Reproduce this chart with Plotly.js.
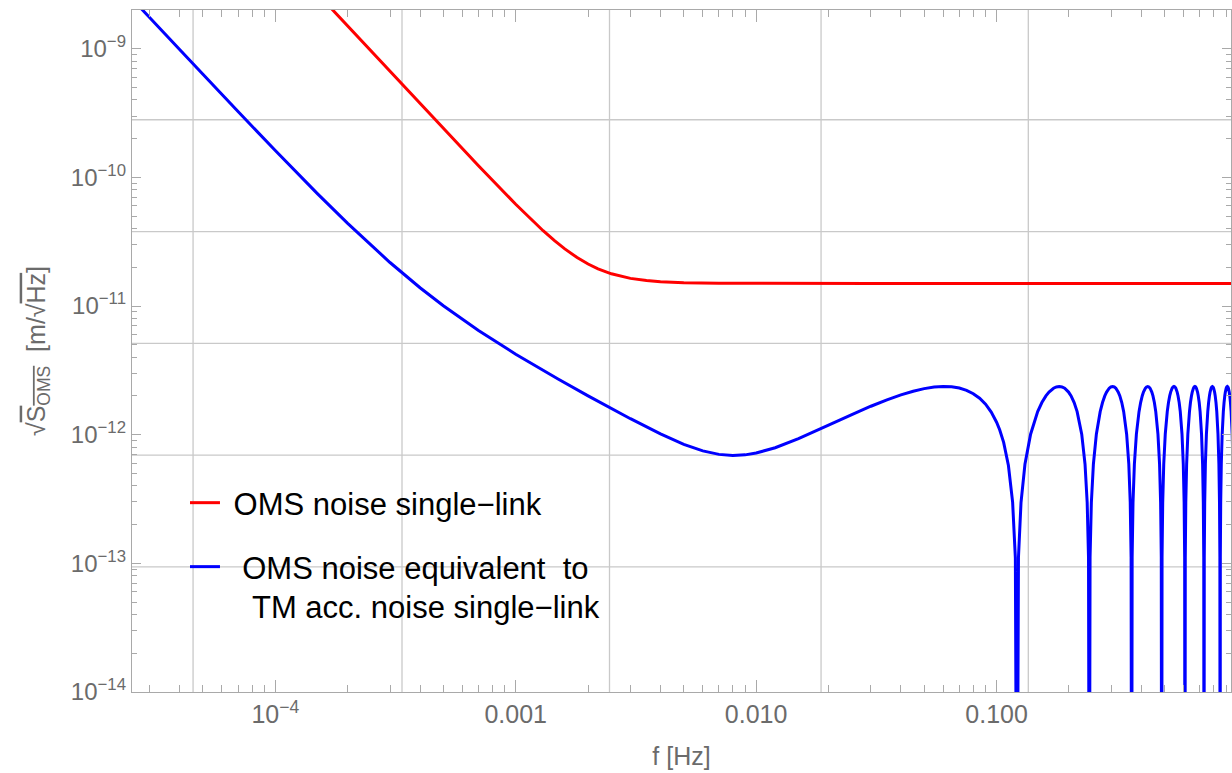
<!DOCTYPE html>
<html><head><meta charset="utf-8">
<script src="https://cdn.plot.ly/plotly-3.0.1.min.js"></script>
<style>html,body{margin:0;padding:0;background:#fff}#chart{width:1232px;height:773px}</style>
</head><body><div id="chart"></div>
<script>
// ---- data ----
const redFreq = [1.5e-4, 2e-4, 3e-4, 5e-4, 7e-4, 1e-3, 1.15e-3, 1.3e-3, 1.45e-3, 1.6e-3, 1.8e-3, 2e-3, 2.2e-3, 2.5e-3, 3e-3, 3.5e-3, 4e-3, 5e-3, 7e-3, 1e-2, 3e-2, 0.1, 0.3, 1];
const redVal = [2.67e-9, 1.5e-9, 6.67e-10, 2.40e-10, 1.233e-10, 6.18e-11, 4.78e-11, 3.85e-11, 3.22e-11, 2.78e-11, 2.383e-11, 2.12e-11, 1.946e-11, 1.78e-11, 1.64e-11, 1.578e-11, 1.547e-11, 1.519e-11, 1.505e-11, 1.501e-11, 1.5e-11, 1.5e-11, 1.5e-11, 1.5e-11];

const blueLowFreq = [2.5e-5, 3e-5, 4e-5, 5e-5, 7e-5, 1e-4, 1.5e-4, 2e-4, 3e-4, 4e-4, 5e-4, 7e-4, 1e-3, 1.5e-3, 2e-3, 3e-3, 4e-3, 5e-3, 6e-3, 7e-3, 8e-3, 9e-3, 1e-2, 1.2e-2, 1.5e-2, 2e-2, 2.5e-2, 3e-2, 3.5e-2, 4e-2, 4.5e-2, 5e-2, 5.5e-2, 6e-2, 6.5e-2, 7e-2, 7.5e-2, 8e-2, 8.5e-2, 9e-2, 9.5e-2, 0.1, 0.103, 0.107, 0.112, 0.1166, 0.1197];
const blueLowVal = [2.515e-9, 1.748e-9, 9.854e-10, 6.324e-10, 3.250e-10, 1.617e-10, 7.447e-11, 4.385e-11, 2.179e-11, 1.387e-11, 1.0045e-11, 6.453e-12, 4.225e-12, 2.707e-12, 2.003e-12, 1.331e-12, 1.014e-12, 8.42e-13, 7.486e-13, 7.03e-13, 6.89e-13, 6.97e-13, 7.20e-13, 7.92e-13, 9.32e-13, 1.187e-12, 1.434e-12, 1.664e-12, 1.866e-12, 2.038e-12, 2.177e-12, 2.280e-12, 2.345e-12, 2.370e-12, 2.356e-12, 2.303e-12, 2.211e-12, 2.083e-12, 1.919e-12, 1.725e-12, 1.499e-12, 1.251e-12, 1.092e-12, 8.72e-13, 5.76e-13, 2.99e-13, 1.10e-13];

// high-frequency arches (each starts at a null of the response)
const arch1Freq = [0.1215, 0.12332, 0.12636, 0.13122, 0.13851, 0.14823, 0.15431, 0.16038, 0.16524, 0.17253, 0.17739, 0.18225, 0.18711, 0.19197, 0.19926, 0.20412, 0.21020, 0.21627, 0.22599, 0.23328, 0.23814, 0.24118];
const arch2Freq = [0.243, 0.24482, 0.24786, 0.25272, 0.26001, 0.26973, 0.27581, 0.28188, 0.28674, 0.29403, 0.29889, 0.30375, 0.30861, 0.31347, 0.32076, 0.32562, 0.33170, 0.33777, 0.34749, 0.35478, 0.35964, 0.36268];
const arch3Freq = [0.3645, 0.36632, 0.36936, 0.37422, 0.38151, 0.39123, 0.39731, 0.40338, 0.40824, 0.41553, 0.42039, 0.42525, 0.43011, 0.43497, 0.44226, 0.44712, 0.45320, 0.45927, 0.46899, 0.47628, 0.48114, 0.48418];
const arch4Freq = [0.486, 0.48782, 0.49086, 0.49572, 0.50301, 0.51273, 0.51881, 0.52488, 0.52974, 0.53703, 0.54189, 0.54675, 0.55161, 0.55647, 0.56376, 0.56862, 0.57470, 0.58077, 0.59049, 0.59778, 0.60264, 0.60568];
const arch5Freq = [0.6075, 0.60932, 0.61236, 0.61722, 0.62451, 0.63423, 0.64031, 0.64638, 0.65124, 0.65853, 0.66339, 0.66825, 0.67311, 0.67797, 0.68526, 0.69012, 0.69620, 0.70227, 0.71199, 0.71928, 0.72414, 0.72718];
const arch6Freq = [0.729, 0.73082, 0.73386, 0.73872, 0.74601, 0.75573, 0.76181, 0.76788, 0.77274, 0.78003, 0.78489, 0.78975, 0.79461, 0.79947, 0.80676, 0.81162, 0.81770, 0.82377, 0.83349, 0.84078, 0.84564, 0.84868];
const arch7Freq = [0.8505, 0.85232, 0.85536, 0.86022, 0.86751, 0.87723, 0.88331, 0.88938, 0.89424, 0.90153, 0.90639, 0.91125, 0.91611, 0.92097, 0.92826, 0.93312, 0.93920, 0.94527, 0.95499, 0.96228, 0.96714, 0.97018];
const archVal = [1e-16, 1.116e-13, 2.970e-13, 5.894e-13, 1.009e-12, 1.511e-12, 1.778e-12, 2.001e-12, 2.144e-12, 2.296e-12, 2.351e-12, 2.37e-12, 2.351e-12, 2.296e-12, 2.144e-12, 2.001e-12, 1.778e-12, 1.511e-12, 1.009e-12, 5.894e-13, 2.970e-13, 1.116e-13];
const blueEndFreq = [0.972];
const blueEndVal = [1e-16];

const seriesNames = ['\u00a0OMS noise single\u2212link', '\u00a0\u00a0OMS noise equivalent\u00a0\u00a0to'];
const legendSecondLine = 'TM acc. noise single\u2212link';

const xTickVals = [1e-4, 1e-3, 1e-2, 0.1];
const xTickText = ['10<sup>\u22124</sup>', '0.001', '0.010', '0.100'];
const yTickVals = [1e-14, 1e-13, 1e-12, 1e-11, 1e-10, 1e-9];
const yTickText = ['10<sup>\u221214</sup>', '10<sup>\u221213</sup>', '10<sup>\u221212</sup>', '10<sup>\u221211</sup>', '10<sup>\u221210</sup>', '10<sup>\u22129</sup>'];
const xGrid = [4.55e-5, 3.365e-4, 2.455e-3, 0.01862, 0.1355];
const yGrid = [2.805e-10, 3.793e-11, 5.129e-12, 6.934e-13, 9.376e-14];

// ---- build ----
const archFreqs = [arch1Freq, arch2Freq, arch3Freq, arch4Freq, arch5Freq, arch6Freq, arch7Freq];
let blueFreq = blueLowFreq.slice();
let blueVal = blueLowVal.slice();
archFreqs.forEach(a => { blueFreq = blueFreq.concat(a); blueVal = blueVal.concat(archVal); });
blueFreq = blueFreq.concat(blueEndFreq);
blueVal = blueVal.concat(blueEndVal);

function minorTicks(d0, d1, maxV) {
  const out = [];
  for (let d = d0; d <= d1; d++) for (let k = 2; k <= 9; k++) {
    const v = k * Math.pow(10, d);
    if (v <= maxV) out.push(v);
  }
  return out;
}
const xMinor = minorTicks(-5, -1, 0.95);
const yMinor = minorTicks(-14, -9, 2e-9);

const axisColor = '#a9a9a9';
const tickFontColor = '#6b6b6b';
const gridColor = '#c9c9c9';

const shapes = [];
xGrid.forEach(v => shapes.push({type:'line', xref:'x', yref:'paper', x0:v, x1:v, y0:0, y1:1, layer:'below', line:{color:gridColor, width:1.3}}));
yGrid.forEach(v => shapes.push({type:'line', xref:'paper', yref:'y', x0:0, x1:1, y0:v, y1:v, layer:'below', line:{color:gridColor, width:1.3}}));

const traces = [
  {x: redFreq, y: redVal, type:'scatter', mode:'lines', name: seriesNames[0], line:{color:'#ff0000', width:3}, legend:'legend'},
  {x: blueFreq, y: blueVal, type:'scatter', mode:'lines', name: seriesNames[1], line:{color:'#0000ff', width:3, simplify:false}, legend:'legend2'}
];

const layout = {
  width:1232, height:773,
  margin:{l:132, r:1, t:10, b:81},
  paper_bgcolor:'#ffffff', plot_bgcolor:'#ffffff',
  font:{family:'Liberation Sans, Arial, sans-serif', color:tickFontColor},
  xaxis:{
    type:'log', range:[-4.596, -0.025], showgrid:false, zeroline:false,
    showline:true, linecolor:axisColor, linewidth:1.2, mirror:'allticks',
    ticks:'inside', ticklen:12, tickwidth:1, tickcolor:axisColor,
    tickmode:'array', tickvals:xTickVals, ticktext:xTickText,
    tickfont:{size:25, color:tickFontColor},
    minor:{tickmode:'array', tickvals:xMinor, ticks:'inside', ticklen:7, tickwidth:1, tickcolor:axisColor, showgrid:false},
    title:{text:'f [Hz]', font:{size:25, color:tickFontColor}, standoff:20}
  },
  yaxis:{
    type:'log', range:[-14, -8.699], showgrid:false, zeroline:false,
    showline:true, linecolor:axisColor, linewidth:1.2, mirror:'allticks',
    ticks:'inside', ticklen:9, tickwidth:1, tickcolor:axisColor,
    tickmode:'array', tickvals:yTickVals, ticktext:yTickText,
    tickfont:{size:24, color:tickFontColor},
    minor:{tickmode:'array', tickvals:yMinor, ticks:'inside', ticklen:5, tickwidth:1, tickcolor:axisColor, showgrid:false},
    title:{text:'\u221a<span style="text-decoration:overline">S<sub>OMS</sub></span>\u00a0 [m/\u221a<span style="text-decoration:overline">Hz</span>]', font:{size:25, color:tickFontColor}, standoff:18}
  },
  showlegend:true,
  legend:{x:0.0482, y:0.2771, xanchor:'left', yanchor:'middle', bgcolor:'rgba(0,0,0,0)', borderwidth:0, font:{size:31, color:'#000000'}, valign:'top'},
  legend2:{x:0.0482, y:0.1833, xanchor:'left', yanchor:'middle', bgcolor:'rgba(0,0,0,0)', borderwidth:0, font:{size:31, color:'#000000'}, valign:'top'},
  annotations:[{xref:'paper', yref:'paper', x:0.1074, y:0.1246, xanchor:'left', yanchor:'middle', showarrow:false, text:legendSecondLine, font:{size:31, color:'#000000', family:'Liberation Sans, Arial, sans-serif'}}],
  shapes: shapes
};

Plotly.newPlot('chart', traces, layout, {displayModeBar:false, staticPlot:true});
</script>
</body></html>
